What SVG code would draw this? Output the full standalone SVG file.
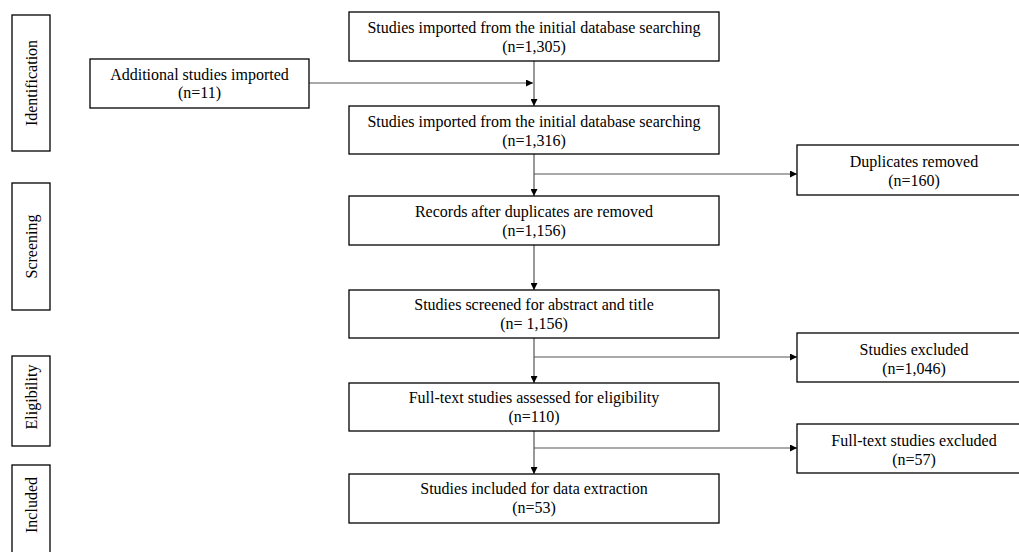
<svg xmlns="http://www.w3.org/2000/svg" width="1019" height="552" viewBox="0 0 1019 552">
<style>
.box{fill:#fff;stroke:#000;stroke-width:1.3}
.t{font-family:'Liberation Serif','Times New Roman','DejaVu Serif',serif;font-size:16px;fill:#000;text-anchor:middle}
.c{fill:none;stroke:#555;stroke-width:1.2}
</style>
<defs>
<marker id="ah" viewBox="0 0 10 10" refX="10" refY="5" markerWidth="7" markerHeight="7" markerUnits="userSpaceOnUse" orient="auto">
<path d="M0,0 L10,5 L0,10 Z" fill="#000"/>
</marker>
</defs>
<rect width="1019" height="552" fill="#fff"/>
<g id="phase-identification"><rect class="box" x="12" y="15" width="38" height="136"/><text class="t" transform="translate(36.5,83) rotate(-90)">Identification</text></g>
<g id="phase-screening"><rect class="box" x="12" y="183" width="38" height="127"/><text class="t" transform="translate(36.5,246.5) rotate(-90)">Screening</text></g>
<g id="phase-eligibility"><rect class="box" x="12" y="356" width="38" height="90"/><text class="t" transform="translate(36.5,397) rotate(-90)">Eligibility</text></g>
<g id="phase-included"><rect class="box" x="12" y="465" width="38" height="100"/><text class="t" transform="translate(36.5,505) rotate(-90)">Included</text></g>

<g id="connectors">
<line class="c" x1="534" y1="61" x2="534" y2="106" marker-end="url(#ah)"/>
<line class="c" x1="309" y1="83" x2="533" y2="83" marker-end="url(#ah)"/>
<line class="c" x1="534" y1="154" x2="534" y2="196" marker-end="url(#ah)"/>
<line class="c" x1="534" y1="174" x2="797" y2="174" marker-end="url(#ah)"/>
<line class="c" x1="534" y1="245" x2="534" y2="290" marker-end="url(#ah)"/>
<line class="c" x1="534" y1="338" x2="534" y2="383" marker-end="url(#ah)"/>
<line class="c" x1="534" y1="357" x2="797" y2="357" marker-end="url(#ah)"/>
<line class="c" x1="534" y1="431" x2="534" y2="474" marker-end="url(#ah)"/>
<line class="c" x1="534" y1="448" x2="797" y2="448" marker-end="url(#ah)"/>
</g>

<g id="n-initial"><rect class="box" x="349" y="12" width="370" height="49"/><text class="t" x="534" y="33">Studies imported from the initial database searching</text><text class="t" x="534" y="51.5">(n=1,305)</text></g>
<g id="n-additional"><rect class="box" x="90" y="59" width="219" height="49"/><text class="t" x="199.5" y="80">Additional studies imported</text><text class="t" x="199.5" y="98">(n=11)</text></g>
<g id="n-combined"><rect class="box" x="349" y="106" width="370" height="48"/><text class="t" x="534" y="127">Studies imported from the initial database searching</text><text class="t" x="534" y="145.5">(n=1,316)</text></g>
<g id="n-duplicates"><rect class="box" x="797" y="145" width="240" height="50"/><text class="t" x="914" y="167">Duplicates removed</text><text class="t" x="914" y="186">(n=160)</text></g>
<g id="n-records"><rect class="box" x="349" y="196" width="370" height="49"/><text class="t" x="534" y="217">Records after duplicates are removed</text><text class="t" x="534" y="235.5">(n=1,156)</text></g>
<g id="n-screened"><rect class="box" x="349" y="290" width="370" height="48"/><text class="t" x="534" y="310">Studies screened for abstract and title</text><text class="t" x="534" y="329">(n= 1,156)</text></g>
<g id="n-excluded"><rect class="box" x="797" y="333" width="240" height="49"/><text class="t" x="914" y="355">Studies excluded</text><text class="t" x="914" y="374">(n=1,046)</text></g>
<g id="n-fulltext"><rect class="box" x="349" y="383" width="370" height="48"/><text class="t" x="534" y="403">Full-text studies assessed for eligibility</text><text class="t" x="534" y="422">(n=110)</text></g>
<g id="n-ft-excluded"><rect class="box" x="797" y="424" width="240" height="49"/><text class="t" x="914" y="446">Full-text studies excluded</text><text class="t" x="914" y="465">(n=57)</text></g>
<g id="n-included"><rect class="box" x="349" y="474" width="370" height="49"/><text class="t" x="534" y="494">Studies included for data extraction</text><text class="t" x="534" y="513">(n=53)</text></g>
</svg>
